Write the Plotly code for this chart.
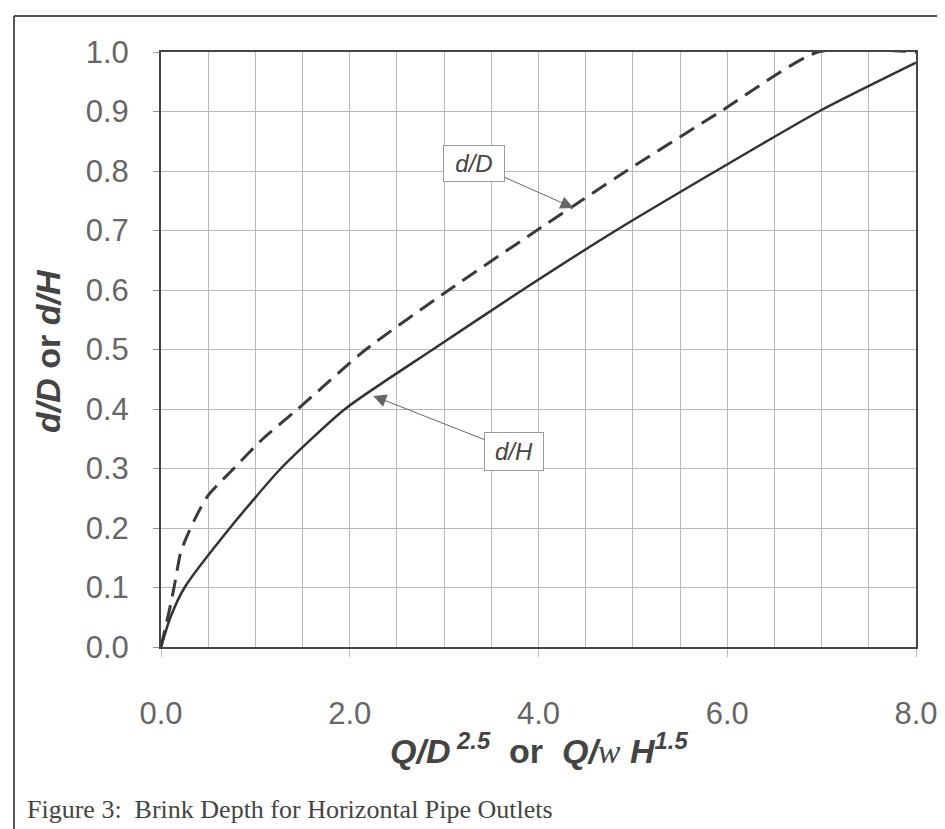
import plotly.graph_objects as go

# ---- data ----
dH_x = [0.0, 0.1, 0.25, 0.73, 1.27, 1.95, 2.88, 3.83, 4.82, 5.88, 6.97, 8.0]
dH_y = [0.0, 0.05, 0.10, 0.20, 0.30, 0.40, 0.50, 0.60, 0.70, 0.80, 0.90, 0.982]

dD_x = [0.0, 0.05, 0.10, 0.15, 0.21, 0.30, 0.40, 0.50, 0.62, 0.74, 1.08, 1.45, 2.17, 3.05, 3.98, 4.93, 5.93, 6.96, 8.0]
dD_y = [0.0, 0.035, 0.07, 0.11, 0.16, 0.195, 0.228, 0.255, 0.276, 0.295, 0.35, 0.40, 0.50, 0.60, 0.70, 0.80, 0.90, 1.00, 1.00]

x_ticks = [0, 2, 4, 6, 8]
y_ticks = [0.0, 0.1, 0.2, 0.3, 0.4, 0.5, 0.6, 0.7, 0.8, 0.9, 1.0]

# ---- layout geometry (pixels) ----
W, H = 945, 829
L, R, T, B = 153, 37, 44, 190
PW, PH = W - L - R, H - T - B


def px(xp):
    return (xp - L) / PW


def py(yp):
    return (H - B - yp) / PH


fig = go.Figure()
fig.add_trace(go.Scatter(
    x=dD_x, y=dD_y, mode="lines", name="d/D", cliponaxis=False,
    line=dict(color="#3a3a3a", width=3, dash="17px,9px", shape="spline", smoothing=0.6),
))
fig.add_trace(go.Scatter(
    x=dH_x, y=dH_y, mode="lines", name="d/H", cliponaxis=False,
    line=dict(color="#333333", width=2.5, shape="spline", smoothing=0.6),
))

tickfont = dict(family="Liberation Sans, Arial, sans-serif", size=31, color="#666666")

fig.update_xaxes(
    range=[0, 8], tickvals=x_ticks, ticktext=[f"{v:.1f}" for v in x_ticks],
    showgrid=True, gridcolor="#b8b8b8", gridwidth=1,
    minor=dict(dtick=0.5, showgrid=True, gridcolor="#b8b8b8", gridwidth=1),
    showline=True, linecolor="#444444", linewidth=2, mirror=True,
    ticks="outside", ticklen=8, tickcolor="#bbbbbb", tickwidth=1,
    ticklabelstandoff=30, tickfont=tickfont, zeroline=False,
)
fig.update_yaxes(
    range=[0, 1], tickvals=y_ticks, ticktext=[f"{v:.1f}" for v in y_ticks],
    showgrid=True, gridcolor="#b8b8b8", gridwidth=1,
    showline=True, linecolor="#444444", linewidth=2, mirror=True,
    ticks="outside", ticklen=6, tickcolor="#999999", tickwidth=1,
    ticklabelstandoff=18, tickfont=tickfont, zeroline=False,
)

lab_font = dict(family="Liberation Sans, Arial", size=24, color="#444444")
annotations = [
    # curve labels with arrows
    dict(x=4.37, y=0.738, xref="x", yref="y", ax=3.32, ay=0.812, axref="x", ayref="y",
         text="<i>d/D</i>", showarrow=True, arrowhead=2, arrowsize=2.6, arrowwidth=1,
         arrowcolor="#666666", font=lab_font,
         bgcolor="white", bordercolor="#999999", borderwidth=1, width=58, height=33, borderpad=1),
    dict(x=2.25, y=0.422, xref="x", yref="y", ax=3.74, ay=0.329, axref="x", ayref="y",
         text="<i>d/H</i>", showarrow=True, arrowhead=2, arrowsize=2.6, arrowwidth=1,
         arrowcolor="#666666", font=lab_font,
         bgcolor="white", bordercolor="#999999", borderwidth=1, width=56, height=35, borderpad=1),
    # y-axis title
    dict(x=px(40), y=py(343), xref="paper", yref="paper", showarrow=False, textangle=-90,
         xanchor="center", yanchor="middle",
         text="<b><i>d/D</i> or <i>d/H</i></b>",
         font=dict(family="Liberation Sans, Arial", size=34, color="#444444")),
    # x-axis title
    dict(x=0.5, y=py(740), xref="paper", yref="paper", showarrow=False,
         xanchor="center", yanchor="middle",
         text=("<b><i>Q/D</i></b><sup><b><i> 2.5</i></b></sup><b>  or  <i>Q/</i></b>"
               "<span style='font-family:Liberation Serif, Times New Roman, serif'><i>w</i></span>"
               "<b><i> H</i></b><sup><b><i>1.5</i></b></sup>"),
         font=dict(family="Liberation Sans, Arial", size=34, color="#444444")),
    # caption
    dict(x=px(17), y=py(801), xref="paper", yref="paper", showarrow=False,
         xanchor="left", yanchor="middle",
         text="Figure 3:  Brink Depth for Horizontal Pipe Outlets",
         font=dict(family="Liberation Serif, Times New Roman, serif", size=26, color="#444444")),
]

shapes = [
    # outer page frame
    dict(type="line", xref="paper", yref="paper", x0=px(6), x1=px(6), y0=py(8), y1=py(829),
         line=dict(color="#555555", width=2)),
    dict(type="line", xref="paper", yref="paper", x0=px(936), x1=px(936), y0=py(8), y1=py(829),
         line=dict(color="#555555", width=2)),
    dict(type="line", xref="paper", yref="paper", x0=px(6), x1=px(936), y0=py(8), y1=py(8),
         line=dict(color="#555555", width=2)),
]

fig.update_layout(
    width=W, height=H, margin=dict(l=L, r=R, t=T, b=B, autoexpand=False),
    plot_bgcolor="white", paper_bgcolor="white", showlegend=False,
    annotations=annotations, shapes=shapes,
)

fig.write_html("out.html")
